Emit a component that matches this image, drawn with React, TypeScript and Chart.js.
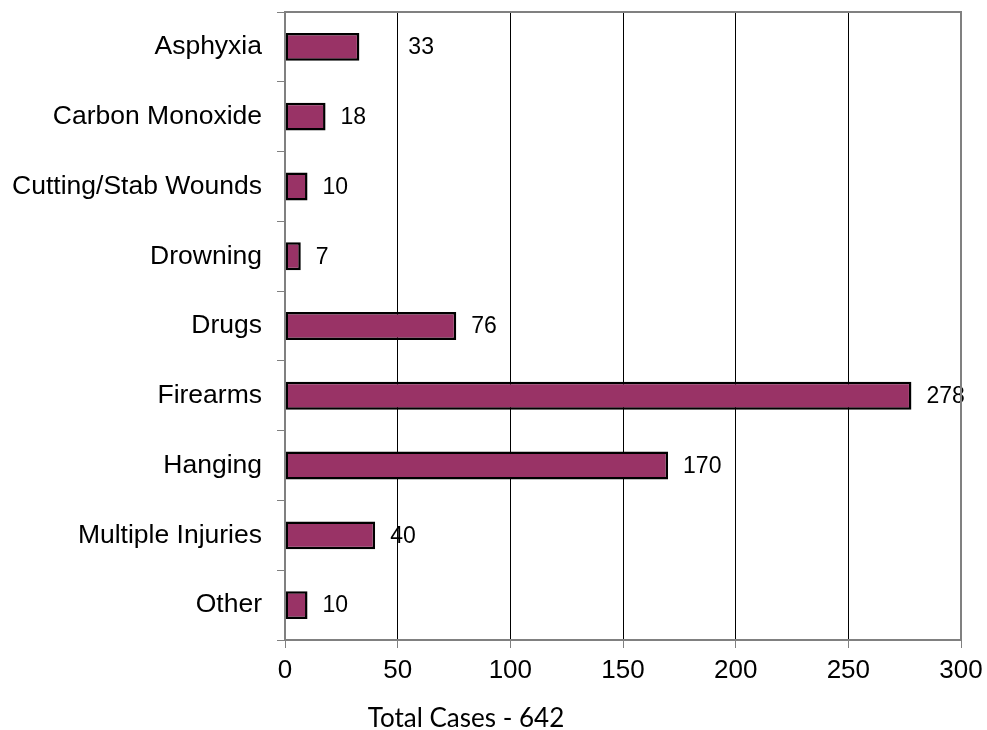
import React, { useEffect, useRef } from 'react';
import { Chart, registerables } from 'chart.js';

Chart.register(...registerables);

const categories = [
  'Asphyxia',
  'Carbon Monoxide',
  'Cutting/Stab Wounds',
  'Drowning',
  'Drugs',
  'Firearms',
  'Hanging',
  'Multiple Injuries',
  'Other',
];
const cases = [33, 18, 10, 7, 76, 278, 170, 40, 10];
const xTicks = [0, 50, 100, 150, 200, 250, 300];
const axisTitle = 'Total Cases - 642';

const ARIAL = '"Liberation Sans", Arial, Helvetica, sans-serif';

const labelPlugin = {
  id: 'barLabels',
  afterDatasetsDraw(chart: any) {
    const ctx = chart.ctx;
    const meta = chart.getDatasetMeta(0);
    ctx.save();
    ctx.font = `23px ${ARIAL}`;
    ctx.fillStyle = '#000';
    ctx.textBaseline = 'middle';
    ctx.textAlign = 'left';
    meta.data.forEach((el: any, i: number) => {
      const gap = i === 0 ? 49 : 15;
      ctx.fillText(String(cases[i]), el.x + gap, el.y + 1);
    });
    ctx.restore();
  },
};

const frameAndTitlePlugin = {
  id: 'frameAndTitle',
  afterDraw(chart: any) {
    const ctx = chart.ctx;
    const { left, top, right, bottom } = chart.chartArea;
    ctx.save();
    ctx.strokeStyle = '#808080';
    ctx.lineWidth = 2;
    ctx.strokeRect(left, top, right - left, bottom - top);
    ctx.font = '26px Lato, "Open Sans", sans-serif';
    ctx.fillStyle = '#000';
    ctx.textAlign = 'center';
    ctx.textBaseline = 'alphabetic';
    ctx.fillText(axisTitle, 466, 727);
    ctx.restore();
  },
};

export default function App() {
  const canvasRef = useRef<HTMLCanvasElement | null>(null);

  useEffect(() => {
    if (!canvasRef.current) return;
    const chart = new Chart(canvasRef.current, {
      type: 'bar',
      data: {
        labels: categories,
        datasets: [
          {
            data: cases,
            backgroundColor: '#993366',
            borderColor: '#000000',
            borderWidth: 2.5,
            borderSkipped: false,
            barPercentage: 0.4,
            categoryPercentage: 1,
          },
        ],
      },
      options: {
        indexAxis: 'y',
        animation: false,
        responsive: false,
        devicePixelRatio: 1,
        layout: { padding: { left: 0, right: 26, top: 12, bottom: 0 } },
        plugins: {
          legend: { display: false },
          tooltip: { enabled: false },
          title: { display: false },
        },
        scales: {
          x: {
            type: 'linear',
            min: 0,
            max: 300,
            afterBuildTicks: (s: any) => {
              s.ticks = xTicks.map((v) => ({ value: v }));
            },
            ticks: {
              color: '#000',
              font: { family: ARIAL, size: 26 },
              padding: 7,
              maxRotation: 0,
            },
            grid: {
              color: (c: any) =>
                c.tick && (c.tick.value === 0 || c.tick.value === 300)
                  ? 'rgba(0,0,0,0)'
                  : '#000',
              lineWidth: 1,
              tickColor: '#808080',
              tickLength: 8,
              drawTicks: true,
            },
            border: { display: false },
            afterFit: (s: any) => {
              s.height = 90;
              s.paddingLeft = 0;
              s.paddingRight = 0;
            },
          },
          y: {
            type: 'category',
            ticks: {
              color: '#000',
              font: { family: ARIAL, size: 26.5 },
              padding: 15,
              autoSkip: false,
            },
            grid: {
              offset: true,
              drawOnChartArea: false,
              drawTicks: true,
              tickLength: 8,
              tickColor: '#808080',
              color: '#808080',
            },
            border: { display: false },
            afterFit: (s: any) => {
              s.width = 285;
              s.paddingTop = 0;
              s.paddingBottom = 0;
            },
          },
        },
      },
      plugins: [labelPlugin, frameAndTitlePlugin],
    } as any);
    return () => chart.destroy();
  }, []);

  return (
    <div style={{ position: 'absolute', left: 0, top: 0, width: 987, height: 730, background: '#fff' }}>
      <canvas ref={canvasRef} width={987} height={730} style={{ display: 'block' }} />
    </div>
  );
}
